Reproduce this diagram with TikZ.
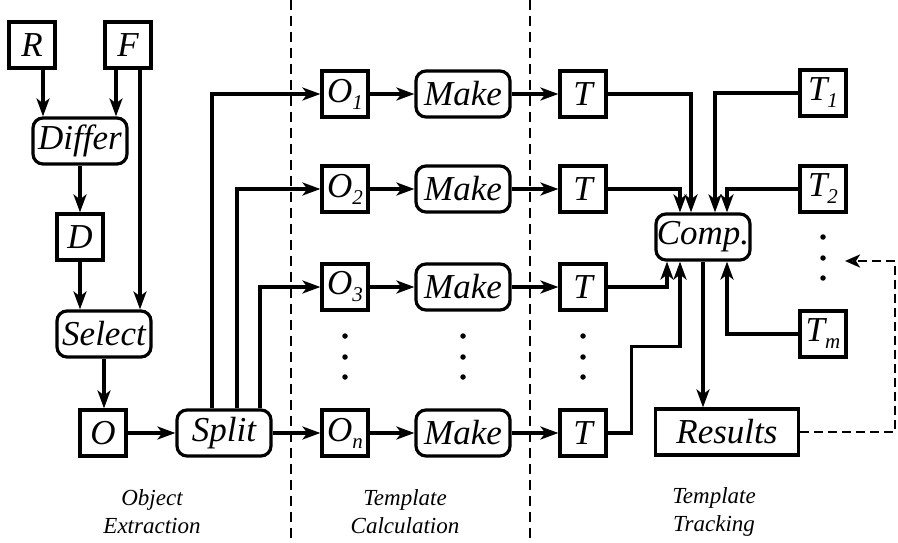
\documentclass[tikz,border=0pt]{standalone}
\usepackage{fontspec}
\setmainfont{Liberation Serif}
\usetikzlibrary{arrows.meta,positioning,calc}

\newcommand\lowsub[1]{\raisebox{-0.2em}{\fontsize{21}{21}\selectfont #1}}

\tikzset{
  x=1pt, y=-1pt,
  base/.style={draw, line width=3.2pt, inner sep=0pt, minimum height=46pt,
    font=\fontsize{35}{35}\selectfont\itshape},
  sq/.style={base, minimum width=46pt},
  rbox/.style={base, rounded corners=10pt, minimum width=94pt},
  wbox/.style={base, minimum width=143pt},
  arr/.style={line width=3.2pt, -{Stealth[length=18pt,width=13pt,inset=5pt]}},
  fbarr/.style={line width=2.8pt, dash pattern=on 9pt off 5pt,
    -{Stealth[open,length=15pt,width=13pt,inset=4pt]}},
  sep/.style={line width=2pt, dash pattern=on 10pt off 6pt},
  dot/.style={circle, fill, inner sep=0pt, minimum size=5.5pt},
  caption/.style={align=center, font=\fontsize{23}{28}\selectfont\itshape}
}

\begin{document}
\begin{tikzpicture}
\useasboundingbox (0,0) rectangle (898,543);

% phase separators
\draw[sep] (291,0) -- (291,543);
\draw[sep] (530,0) -- (530,543);

% object extraction
\node[sq]   (R)      at (32,45)   {R};
\node[sq]   (F)      at (128,45)  {F};
\node[rbox] (Differ) at (80,141)  {Differ};
\node[sq]   (D)      at (80,237)  {D};
\node[rbox] (Select) at (104,334) {Select};
\node[sq]   (O)      at (103,433) {O};
\node[rbox] (Split)  at (224,433) {Split};

% template calculation
\node[sq]   (O1) at (345,94)  {O\lowsub{1}};
\node[sq]   (O2) at (345,189) {O\lowsub{2}};
\node[sq]   (O3) at (345,287) {O\lowsub{3}};
\node[sq]   (On) at (345,433) {O\lowsub{n}};
\node[rbox] (M1) at (463,94)  {Make};
\node[rbox] (M2) at (463,189) {Make};
\node[rbox] (M3) at (463,287) {Make};
\node[rbox] (Mn) at (463,433) {Make};

% template tracking
\node[sq]   (T1a) at (583,94)  {T};
\node[sq]   (T2a) at (583,189) {T};
\node[sq]   (T3a) at (583,287) {T};
\node[sq]   (Tna) at (583,433) {T};
\node[sq]   (Tr1) at (823,93)  {T\lowsub{1}};
\node[sq]   (Tr2) at (823,189) {T\lowsub{2}};
\node[sq]   (Trm) at (823,334) {T\lowsub{m}};
\node[rbox] (Comp)    at (703,237) {Comp.};
\node[wbox] (Results) at (727,432) {Results};

% elided rows
\foreach \c/\x in {o/345, m/463, t/583}
  \foreach \i/\y in {1/336, 2/357, 3/377}
    \node[dot] (dot\c\i) at (\x,\y) {};
\foreach \i/\y in {1/237, 2/258, 3/278}
  \node[dot] (dotr\i) at (823,\y) {};

% extraction flow
\draw[arr] ([xshift=11pt]R.south) -- ([xshift=11pt]R.south |- Differ.north);
\draw[arr] ([xshift=-12pt]F.south) -- ([xshift=-12pt]F.south |- Differ.north);
\draw[arr] (Differ.south) -- (D.north);
\draw[arr] (D.south) -- (D.south |- Select.north);
\draw[arr] ([xshift=12pt]F.south) -- ([xshift=12pt]F.south |- Select.north);
\draw[arr] (Select.south) -- (Select.south |- O.north);
\draw[arr] (O.east) -- (Split.west);

% split into objects
\draw[arr] ([xshift=-12pt]Split.north) |- (O1.west);
\draw[arr] ([xshift=13pt]Split.north) |- (O2.west);
\draw[arr] ([xshift=36pt]Split.north) |- (O3.west);
\draw[arr] (Split.east) -- (On.west);

% templates
\foreach \r in {1,2,3,n} {
  \draw[arr] (O\r.east) -- (M\r.west);
  \draw[arr] (M\r.east) -- (T\r a.west);
}

% into the comparison
\draw[arr] (T1a.east) -| ([xshift=-12pt]Comp.north);
\draw[arr] (T2a.east) -| ([xshift=-23pt]Comp.north);
\draw[arr] (Tr1.west) -| ([xshift=12pt]Comp.north);
\draw[arr] (Tr2.west) -| ([xshift=24pt]Comp.north);
\draw[arr] (T3a.east) -| ([xshift=-36pt]Comp.south);
\draw[arr] (Tna.east) -- ++(24,0) |- ([xshift=-23pt,yshift=-85pt]Comp.south)
  -- ([xshift=-23pt]Comp.south);
\draw[arr] (Trm.west) -| ([xshift=24pt]Comp.south);
\draw[arr] (Comp.south) -- (Comp.south |- Results.north);

% feedback
\coordinate (fbCorner) at (895,261);
\coordinate (fbEnd) at (845,261);
\draw[fbarr] (Results.east) -| (fbCorner) -- (fbEnd);

% phase captions
\node[caption] (capA) at (152,512) {Object\\Extraction};
\node[caption] (capB) at (405,512) {Template\\Calculation};
\node[caption] (capC) at (714,512) {Template\\Tracking};
\end{tikzpicture}
\end{document}
